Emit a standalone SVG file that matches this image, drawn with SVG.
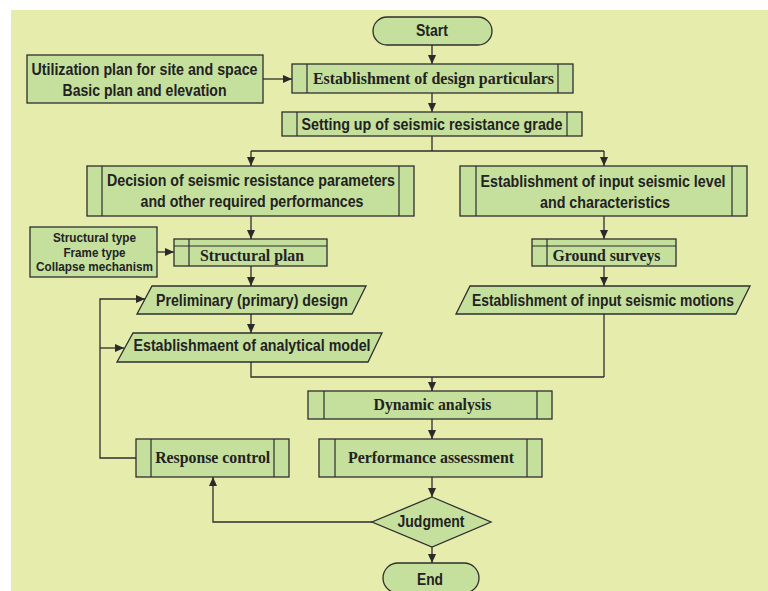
<svg xmlns="http://www.w3.org/2000/svg" width="768" height="591" viewBox="0 0 768 591">
  <defs>
    <marker id="arrow" markerUnits="userSpaceOnUse" markerWidth="10" markerHeight="10" refX="9" refY="4" orient="auto">
      <path d="M0,0 L9,4 L0,8 z" fill="#2a2a2a"/>
    </marker>
    <style>
      .bg { fill: #e6ecac; }
      .box { fill: #c5df9d; stroke: #2e2e2e; stroke-width: 1.3; }
      .div { fill: none; stroke: #2e2e2e; stroke-width: 1.2; }
      .wire { fill: none; stroke: #2e2e2e; stroke-width: 1.3; }
      .arr { marker-end: url(#arrow); }
      .sans { font-family: "Liberation Sans", Arial, sans-serif; font-weight: bold; font-size: 16px; fill: #222; text-anchor: middle; }
      .small { font-size: 12.5px; }
      .serif { font-family: "Liberation Serif", "Times New Roman", serif; font-weight: bold; font-size: 16px; fill: #222; text-anchor: middle; }
    </style>
  </defs>

  <rect class="bg" x="11" y="10" width="757" height="581"/>

  <g id="connectors">
    <path class="wire arr" d="M432,45 V64"/>
    <path class="wire arr" d="M263,79 H292"/>
    <path class="wire arr" d="M432,93 V112"/>
    <path class="wire" d="M432,136 V151 M251,151 H604"/>
    <path class="wire arr" d="M251,151 V166"/>
    <path class="wire arr" d="M604,151 V166"/>
    <path class="wire arr" d="M251,216 V239"/>
    <path class="wire arr" d="M157,252 H174"/>
    <path class="wire arr" d="M251,266 V286"/>
    <path class="wire arr" d="M251,314 V333"/>
    <path class="wire arr" d="M604,216 V239"/>
    <path class="wire arr" d="M604,266 V286"/>
    <path class="wire" d="M251,362 V377 H604 M604,314 V377"/>
    <path class="wire arr" d="M432,377 V391"/>
    <path class="wire arr" d="M432,419 V439"/>
    <path class="wire arr" d="M432,477 V497"/>
    <path class="wire arr" d="M432,547 V563"/>
    <path class="wire arr" d="M372,522 H213 V477"/>
    <path class="wire arr" d="M136,458 H100 V299 H145"/>
    <path class="wire arr" d="M100,348 H124"/>
  </g>

  <g id="start">
    <rect class="box" x="373" y="17" width="119" height="28" rx="14"/>
    <text class="sans" x="432" y="36" textLength="32" lengthAdjust="spacingAndGlyphs">Start</text>
  </g>

  <g id="site-plan">
    <rect class="box" x="27" y="55" width="236" height="48"/>
    <text class="sans" x="144.5" y="75" textLength="226" lengthAdjust="spacingAndGlyphs">Utilization plan for site and space</text>
    <text class="sans" x="144.5" y="96" textLength="164" lengthAdjust="spacingAndGlyphs">Basic plan and elevation</text>
  </g>

  <g id="design-particulars">
    <rect class="box" x="292" y="64" width="281" height="29"/>
    <path class="div" d="M307,64 V93 M558,64 V93"/>
    <text class="serif" x="433.5" y="84" textLength="241" lengthAdjust="spacingAndGlyphs">Establishment of design particulars</text>
  </g>

  <g id="resistance-grade">
    <rect class="box" x="282" y="112" width="300" height="24"/>
    <path class="div" d="M297,112 V136 M567,112 V136"/>
    <text class="sans" x="432" y="129.5" textLength="261" lengthAdjust="spacingAndGlyphs">Setting up of seismic resistance grade</text>
  </g>

  <g id="resistance-parameters">
    <rect class="box" x="87" y="166" width="327" height="50"/>
    <path class="div" d="M102,166 V216 M399,166 V216"/>
    <text class="sans" x="251" y="185.5" textLength="288" lengthAdjust="spacingAndGlyphs">Decision of seismic resistance parameters</text>
    <text class="sans" x="252" y="206.5" textLength="223" lengthAdjust="spacingAndGlyphs">and other required performances</text>
  </g>

  <g id="input-level">
    <rect class="box" x="460" y="166" width="287" height="50"/>
    <path class="div" d="M476,166 V216 M732,166 V216"/>
    <text class="sans" x="603" y="187" textLength="245" lengthAdjust="spacingAndGlyphs">Establishment of input seismic level</text>
    <text class="sans" x="605" y="207.5" textLength="130" lengthAdjust="spacingAndGlyphs">and characteristics</text>
  </g>

  <g id="structural-type">
    <rect class="box" x="30" y="227" width="127" height="50"/>
    <text class="sans small" x="94.5" y="242" textLength="83" lengthAdjust="spacingAndGlyphs">Structural type</text>
    <text class="sans small" x="94.5" y="256.5" textLength="62" lengthAdjust="spacingAndGlyphs">Frame type</text>
    <text class="sans small" x="94.5" y="271" textLength="117" lengthAdjust="spacingAndGlyphs">Collapse mechanism</text>
  </g>

  <g id="structural-plan">
    <rect class="box" x="174" y="239" width="153" height="27"/>
    <path class="div" d="M174,246 H327 M189,239 V266"/>
    <text class="serif" x="252" y="260.5" textLength="104" lengthAdjust="spacingAndGlyphs">Structural plan</text>
  </g>

  <g id="ground-surveys">
    <rect class="box" x="532" y="239" width="144" height="27"/>
    <path class="div" d="M532,246 H676 M547,239 V266"/>
    <text class="serif" x="606.5" y="260.5" textLength="108" lengthAdjust="spacingAndGlyphs">Ground surveys</text>
  </g>

  <g id="preliminary-design">
    <polygon class="box" points="152,286 366,286 352,314 137,314"/>
    <text class="sans" x="252" y="306" textLength="192" lengthAdjust="spacingAndGlyphs">Preliminary (primary) design</text>
  </g>

  <g id="input-motions">
    <polygon class="box" points="470,286 750,286 736,314 456,314"/>
    <text class="sans" x="603" y="306" textLength="262" lengthAdjust="spacingAndGlyphs">Establishment of input seismic motions</text>
  </g>

  <g id="analytical-model">
    <polygon class="box" points="133,333 382,333 368,362 117,362"/>
    <text class="sans" x="252" y="351" textLength="237" lengthAdjust="spacingAndGlyphs">Establishmaent of analytical model</text>
  </g>

  <g id="dynamic-analysis">
    <rect class="box" x="308" y="391" width="244" height="28"/>
    <path class="div" d="M324,391 V419 M537,391 V419"/>
    <text class="serif" x="432.5" y="409.5" textLength="118" lengthAdjust="spacingAndGlyphs">Dynamic analysis</text>
  </g>

  <g id="performance-assessment">
    <rect class="box" x="319" y="439" width="223" height="38"/>
    <path class="div" d="M335,439 V477 M527,439 V477"/>
    <text class="serif" x="431" y="462.5" textLength="166" lengthAdjust="spacingAndGlyphs">Performance assessment</text>
  </g>

  <g id="response-control">
    <rect class="box" x="136" y="439" width="153" height="38"/>
    <path class="div" d="M151,439 V477 M274,439 V477"/>
    <text class="serif" x="212.7" y="462.5" textLength="115" lengthAdjust="spacingAndGlyphs">Response control</text>
  </g>

  <g id="judgment">
    <polygon class="box" points="432,497 491,522 432,547 372,522"/>
    <text class="sans" x="431" y="527" textLength="67" lengthAdjust="spacingAndGlyphs">Judgment</text>
  </g>

  <g id="end">
    <rect class="box" x="383" y="563" width="96" height="30" rx="15"/>
    <text class="sans" x="430" y="584.5" textLength="26" lengthAdjust="spacingAndGlyphs">End</text>
  </g>
</svg>
